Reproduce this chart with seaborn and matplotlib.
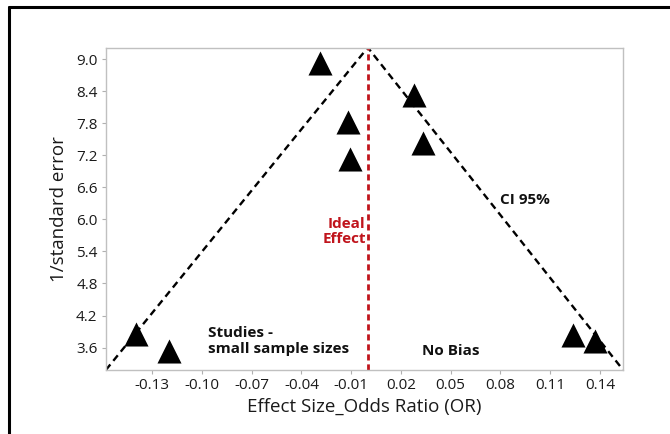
import matplotlib
matplotlib.use("Agg")
import matplotlib.pyplot as plt
import seaborn as sns
import pandas as pd
from matplotlib.lines import Line2D

# ---- data ----
effect_size = [-0.029, 0.028, -0.012, 0.033, -0.011, -0.140, -0.120, 0.124, 0.137]
inv_se = [8.93, 8.33, 7.83, 7.43, 7.13, 3.85, 3.54, 3.83, 3.72]
funnel_x = [-0.158, 0.0, 0.154]
funnel_y = [3.18, 9.22, 3.18]
ideal_effect = 0.0
x_ticks = [-0.13, -0.10, -0.07, -0.04, -0.01, 0.02, 0.05, 0.08, 0.11, 0.14]
y_ticks = [3.6, 4.2, 4.8, 5.4, 6.0, 6.6, 7.2, 7.8, 8.4, 9.0]

sns.set_style("white")
plt.rcParams['font.family'] = ['Open Sans', 'DejaVu Sans']

fig = plt.figure(figsize=(6.70, 4.34), dpi=100)
ax = fig.add_axes([0.158, 0.1475, 0.772, 0.743])

df = pd.DataFrame({"x": effect_size, "y": inv_se})
fdf = pd.DataFrame({"x": funnel_x, "y": funnel_y})

sns.lineplot(data=fdf, x="x", y="y", ax=ax, color="black", lw=1.7,
             linestyle=(0, (3, 2)), sort=False)
ax.axvline(ideal_effect, color="#c0141c", lw=2, linestyle=(0, (2.2, 1.4)))
sns.scatterplot(data=df, x="x", y="y", ax=ax, marker="^", s=300,
                color="black", edgecolor="black", linewidth=0, zorder=5)

ax.set_xlim(-0.158, 0.154)
ax.set_ylim(3.18, 9.22)
ax.set_xticks(x_ticks)
ax.set_xticklabels([f"{v:.2f}" for v in x_ticks])
ax.set_yticks(y_ticks)
ax.set_yticklabels([f"{v:.1f}" for v in y_ticks])
ax.tick_params(axis="both", labelsize=11, length=3, width=0.8,
               color="#b0b0b0", direction="out", pad=3, labelcolor="#1a1a1a")
ax.tick_params(axis="both", bottom=True, left=True)
for s in ax.spines.values():
    s.set_color("#c0c0c0")
    s.set_linewidth(1)

ax.set_xlabel("Effect Size_Odds Ratio (OR)", fontsize=13.5, labelpad=3,
              color="#1a1a1a")
ax.set_ylabel("1/standard error", fontsize=13.5, labelpad=6, color="#1a1a1a")

ax.text(0.0946, 6.37, "CI 95%", fontsize=11, fontweight="bold",
        ha="center", va="center", color="#111111")
ax.text(-0.0013, 5.77, "Ideal\nEffect", fontsize=11, fontweight="bold",
        color="#c0141c", ha="right", va="center", linespacing=1.05)
ax.text(-0.0963, 3.72, "Studies -\nsmall sample sizes", fontsize=11,
        fontweight="bold", ha="left", va="center", linespacing=1.15,
        color="#111111")
ax.text(0.0502, 3.54, "No Bias", fontsize=11, fontweight="bold",
        ha="center", va="center", color="#111111")

# outer frame (top and left edges)
fig.add_artist(Line2D([9/670, 1.0], [1 - 7/434, 1 - 7/434],
                      transform=fig.transFigure, color="black", lw=2.2))
fig.add_artist(Line2D([9/670, 9/670], [0.0, 1 - 7/434],
                      transform=fig.transFigure, color="black", lw=2.2))

fig.savefig("out.png", dpi=100)
